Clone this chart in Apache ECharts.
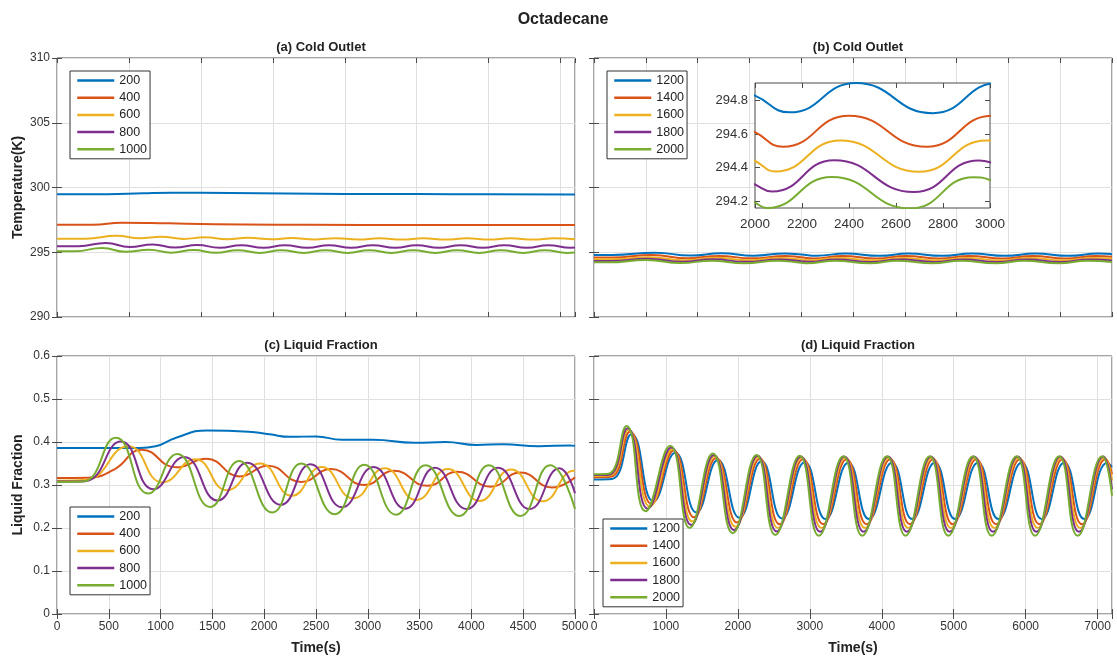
<!DOCTYPE html>
<html><head><meta charset="utf-8">
<script src="https://cdn.jsdelivr.net/npm/echarts@6/dist/echarts.min.js"></script>
<style>html,body{margin:0;padding:0;background:#fff}#c{width:1117px;height:657px}</style>
</head><body><div id="c"></div>
<script>
const COLORS = ['#0072BD','#D95319','#EDB120','#7E2F8E','#77AC30'];
const namesLow = ['200','400','600','800','1000'];
const namesHigh = ['1200','1400','1600','1800','2000'];

// (a) Cold outlet temperature, low flow  [time s, K]
const a200 = [[0,299.47],[700,299.48],[1200,299.56],[1600,299.6],[2400,299.58],[3200,299.53],[4000,299.5],[5000,299.49],[6000,299.47],[7200,299.45]];
const a400 = [[0,297.12],[500,297.13],[900,297.28],[1300,297.26],[1800,297.2],[2600,297.15],[3500,297.12],[5000,297.1],[7200,297.1]];
const a600 = [[0,296.04],[400,296.05],[830,296.27],[1150,296.08],[1450,296.2],[1760,296.03],[2050,296.15],[2370,296.0],[2650,296.12],[2980,296.0],[3260,296.1],[3580,295.98],[3870,296.09],[4190,295.98],[4480,296.08],[4800,295.98],[5090,296.08],[5400,295.98],[5700,296.08],[6010,295.98],[6300,296.08],[6620,295.98],[6910,296.08],[7200,296.0]];
const a800 = [[0,295.46],[300,295.47],[680,295.72],[1010,295.4],[1330,295.6],[1640,295.36],[1950,295.56],[2260,295.35],[2560,295.55],[2870,295.35],[3170,295.54],[3480,295.35],[3780,295.54],[4090,295.35],[4390,295.54],[4700,295.35],[5000,295.54],[5310,295.35],[5610,295.54],[5920,295.35],[6220,295.54],[6530,295.35],[6830,295.54],[7140,295.35],[7200,295.36]];
const a1000 = [[0,295.07],[250,295.08],[630,295.32],[960,295.03],[1280,295.2],[1590,294.97],[1900,295.17],[2210,294.96],[2510,295.16],[2820,294.95],[3120,295.16],[3430,294.95],[3730,295.16],[4040,294.95],[4340,295.16],[4650,294.95],[4950,295.16],[5260,294.95],[5560,295.16],[5870,294.95],[6170,295.16],[6480,294.95],[6780,295.16],[7090,294.95],[7200,294.98]];

// (b) Cold outlet temperature, high flow  [time s, K]
const b1200 = [[0,294.79],[180,294.79],[590,294.97],[930,294.74],[1230,294.92],[1540,294.73],[1845,294.91],[2000,294.83],[2148,294.73],[2429,294.905],[2756,294.725],[3035,294.905],[3360,294.725],[3650,294.905],[3970,294.725],[4260,294.905],[4580,294.725],[4870,294.905],[5000,294.87]];
const b1400 = [[0,294.59],[170,294.59],[565,294.78],[905,294.535],[1205,294.72],[1520,294.528],[1850,294.71],[2000,294.612],[2119,294.525],[2400,294.71],[2730,294.525],[3010,294.71],[3335,294.525],[3625,294.71],[3945,294.525],[4235,294.71],[4555,294.525],[4845,294.71],[5000,294.65]];
const b1600 = [[0,294.45],[160,294.45],[540,294.62],[870,294.385],[1175,294.57],[1490,294.38],[1800,294.563],[2000,294.44],[2087,294.378],[2363,294.563],[2698,294.376],[2985,294.563],[3305,294.376],[3595,294.563],[3915,294.376],[4205,294.563],[4525,294.376],[4815,294.563],[5000,294.49]];
const b1800 = [[0,294.32],[150,294.32],[520,294.5],[850,294.262],[1150,294.45],[1470,294.258],[1790,294.445],[2000,294.3],[2073,294.258],[2337,294.445],[2676,294.255],[2952,294.443],[3000,294.433],[3285,294.255],[3565,294.443],[3895,294.255],[4175,294.443],[4505,294.255],[4785,294.443],[5000,294.36]];
const b2000 = [[0,294.22],[140,294.22],[505,294.4],[835,294.165],[1135,294.35],[1450,294.16],[1770,294.345],[2000,294.192],[2051,294.16],[2327,294.345],[2661,294.157],[2930,294.343],[3000,294.327],[3265,294.157],[3545,294.343],[3875,294.157],[4155,294.343],[4485,294.157],[4765,294.343],[5000,294.25]];

// (c) Liquid fraction, low flow
const c200 = [[0,0.386],[800,0.386],[950,0.39],[1150,0.41],[1450,0.427],[1850,0.424],[2050,0.418],[2250,0.412],[2500,0.413],[2750,0.405],[3050,0.405],[3450,0.398],[3750,0.4],[4050,0.393],[4300,0.395],[4650,0.39],[4950,0.392],[5000,0.391]];
const c400 = [[0,0.316],[300,0.317],[550,0.336],[820,0.382],[1150,0.341],[1442,0.361],[1765,0.32],[2034,0.345],[2357,0.307],[2644,0.337],[2966,0.3],[3253,0.333],[3576,0.298],[3863,0.331],[4186,0.296],[4473,0.329],[4778,0.294],[5000,0.318]];
const c600 = [[0,0.31],[280,0.312],[690,0.39],[1020,0.306],[1334,0.36],[1639,0.288],[1962,0.35],[2267,0.275],[2554,0.342],[2859,0.269],[3164,0.339],[3469,0.265],[3773,0.337],[4078,0.263],[4383,0.336],[4688,0.262],[4990,0.333],[5000,0.333]];
const c800 = [[0,0.308],[270,0.309],[617,0.401],[930,0.29],[1227,0.365],[1550,0.264],[1837,0.352],[2160,0.254],[2446,0.348],[2751,0.248],[3056,0.342],[3361,0.245],[3648,0.34],[3953,0.244],[4258,0.34],[4562,0.244],[4849,0.339],[5000,0.281]];
const c1000 = [[0,0.307],[250,0.308],[568,0.41],[880,0.28],[1160,0.372],[1478,0.249],[1757,0.356],[2077,0.236],[2357,0.35],[2680,0.232],[2966,0.347],[3271,0.231],[3558,0.346],[3881,0.228],[4168,0.346],[4473,0.228],[4760,0.346],[5000,0.244]];

// (d) Liquid fraction, high flow
const d1200 = [[0,0.313],[250,0.314],[522,0.418],[826,0.262],[1130,0.375],[1423,0.236],[1722,0.358],[2021,0.224],[2330,0.355],[2613,0.222],[2930,0.353],[3218,0.221],[3536,0.352],[3821,0.221],[4142,0.352],[4423,0.221],[4737,0.352],[5018,0.221],[5338,0.352],[5621,0.221],[5944,0.352],[6223,0.221],[6536,0.352],[6815,0.221],[7135,0.352],[7200,0.342]];
const d1400 = [[0,0.318],[235,0.319],[499,0.424],[801,0.256],[1107,0.38],[1390,0.225],[1699,0.363],[1988,0.213],[2307,0.361],[2580,0.209],[2907,0.36],[3185,0.209],[3513,0.36],[3788,0.209],[4119,0.36],[4390,0.209],[4714,0.36],[4985,0.209],[5315,0.36],[5588,0.209],[5921,0.36],[6190,0.209],[6513,0.36],[6782,0.209],[7112,0.36],[7200,0.325]];
const d1600 = [[0,0.321],[220,0.322],[480,0.428],[776,0.25],[1088,0.383],[1367,0.215],[1680,0.367],[1965,0.203],[2288,0.365],[2557,0.2],[2888,0.364],[3162,0.2],[3494,0.364],[3765,0.2],[4100,0.364],[4367,0.2],[4695,0.364],[4962,0.2],[5296,0.364],[5565,0.2],[5902,0.364],[6167,0.2],[6494,0.364],[6759,0.2],[7093,0.364],[7200,0.31]];
const d1800 = [[0,0.323],[210,0.324],[466,0.432],[746,0.245],[1074,0.387],[1350,0.207],[1666,0.37],[1947,0.195],[2274,0.368],[2539,0.192],[2874,0.366],[3144,0.191],[3480,0.366],[3747,0.191],[4086,0.366],[4349,0.191],[4681,0.366],[4944,0.191],[5282,0.366],[5547,0.191],[5888,0.366],[6149,0.191],[6480,0.366],[6741,0.191],[7079,0.366],[7200,0.29]];
const d2000 = [[0,0.325],[200,0.326],[452,0.437],[716,0.239],[1060,0.391],[1330,0.2],[1652,0.373],[1928,0.188],[2260,0.37],[2520,0.184],[2860,0.368],[3125,0.182],[3466,0.367],[3728,0.182],[4072,0.367],[4330,0.182],[4667,0.367],[4925,0.182],[5268,0.367],[5528,0.182],[5874,0.367],[6130,0.182],[6466,0.367],[6722,0.182],[7065,0.367],[7200,0.275]];

const insetYTicks = [294.2, 294.4, 294.6, 294.8];

const FONT = 'Liberation Sans, Arial, Helvetica, sans-serif';
const AX = '#4a4a4a';
const GRIDC = '#e0e0e0';

const grids = [
  {left:57, top:58, width:518, height:259},
  {left:594, top:58, width:518, height:259},
  {left:57, top:356, width:518, height:258},
  {left:594, top:356, width:518, height:258},
  {left:755, top:83, width:235, height:125}
].map((g,i)=>Object.assign({show:true, borderColor:AX, borderWidth:1, backgroundColor:'#fff', z: i===4?5:0}, g));

function xAx(gi, min, max, interval, showLabel, opts){
  const z = gi===4 ? 6 : 0;
  const base = {type:'value', gridIndex:gi, min, max, interval, z,
    axisLine:{show:false},
    axisTick:{show:true, inside:true, length:5, lineStyle:{color:AX}},
    splitLine:{show: gi!==4, lineStyle:{color:GRIDC, width:1}},
    axisLabel:{show:showLabel, color:'#333', fontSize: gi===4?13.5:12, fontFamily:FONT, margin: gi===4?9:7,
      formatter: v => (v % interval === 0 ? String(v) : '')}};
  const top = {type:'value', gridIndex:gi, position:'top', min, max, interval, z,
    axisLine:{show:false}, axisTick:{show:true, inside:true, length:5, lineStyle:{color:AX}},
    splitLine:{show:false}, axisLabel:{show:false}};
  return [Object.assign(base, opts||{}), top];
}
function yAx(gi, min, max, interval, showLabel, opts){
  const z = gi===4 ? 6 : 0;
  const base = {type:'value', gridIndex:gi, min, max, interval, z,
    axisLine:{show:false},
    axisTick:{show:true, inside:true, length:5, lineStyle:{color:AX}},
    splitLine:{show: gi!==4, lineStyle:{color:GRIDC, width:1}},
    axisLabel:{show:showLabel, color:'#333', fontSize: gi===4?13:12, fontFamily:FONT, margin:7}};
  const right = {type:'value', gridIndex:gi, position:'right', min, max, interval, z,
    axisLine:{show:false}, axisTick:{show:true, inside:true, length:5, lineStyle:{color:AX}},
    splitLine:{show:false}, axisLabel:{show:false}};
  return [Object.assign(base, opts||{}), right];
}

const nameStyle = {fontWeight:'bold', fontSize:14, color:'#222', fontFamily:FONT};
const xAxes = [].concat(
  xAx(0,0,7200,1000,false),
  xAx(1,0,5000,500,false),
  xAx(2,0,5000,500,true,{name:'Time(s)', nameLocation:'middle', nameGap:27, nameTextStyle:nameStyle}),
  xAx(3,0,7200,1000,true,{name:'Time(s)', nameLocation:'middle', nameGap:27, nameTextStyle:nameStyle}),
  xAx(4,2000,3000,200,true)
);
const yAxes = [].concat(
  yAx(0,290,310,5,true,{name:'Temperature(K)', nameLocation:'middle', nameGap:32, nameTextStyle:nameStyle}),
  yAx(1,290,310,5,false),
  yAx(2,0,0.6,0.1,true,{name:'Liquid Fraction', nameLocation:'middle', nameGap:32, nameTextStyle:nameStyle}),
  yAx(3,0,0.6,0.1,false),
  yAx(4,294.16,294.905,null,true)
);
// inset y axis: custom tick values
delete yAxes[8].interval; delete yAxes[9].interval;
yAxes[8].axisLabel.customValues = insetYTicks;
yAxes[8].axisTick.customValues = insetYTicks;
yAxes[9].axisTick.customValues = insetYTicks;
yAxes[8].axisLabel.formatter = v => v.toFixed(1);

function mk(data, name, ci, gi){
  return {type:'line', name, data, xAxisIndex:gi*2, yAxisIndex:gi*2, showSymbol:false, symbol:'none',
    smooth:0.5, clip:true, silent:true, z: gi===4?7:2,
    lineStyle:{width:2, color:COLORS[ci]}, itemStyle:{color:COLORS[ci]}};
}
const panelA = [a200,a400,a600,a800,a1000];
const panelB = [b1200,b1400,b1600,b1800,b2000];
const panelC = [c200,c400,c600,c800,c1000];
const panelD = [d1200,d1400,d1600,d1800,d2000];
const series = [];
panelA.forEach((d,i)=>series.push(mk(d,namesLow[i],i,0)));
panelB.forEach((d,i)=>series.push(mk(d,namesHigh[i],i,1)));
panelC.forEach((d,i)=>series.push(mk(d,namesLow[i],i,2)));
panelD.forEach((d,i)=>series.push(mk(d,namesHigh[i],i,3)));
panelB.forEach((d,i)=>series.push(mk(d,namesHigh[i],i,4)));

function lg(names, left, top){
  return {orient:'vertical', left, top, data:names, itemWidth:37, itemHeight:14, itemGap:4.2,
    selectedMode:false,
    textStyle:{fontSize:12.5, color:'#222', fontFamily:FONT},
    itemStyle:{opacity:0}, lineStyle:{width:2.5},
    borderColor:'#333', borderWidth:1, padding:[3,3,3,6], backgroundColor:'#fff', z:8};
}
const legends = [lg(namesLow,70,71), lg(namesHigh,607,71), lg(namesLow,70,507), lg(namesHigh,603,519)];

const subStyle = {fontWeight:'bold', fontSize:13, color:'#222', fontFamily:FONT};
const titles = [
  {text:'Octadecane', left:558, top:7, textAlign:'center', textStyle:{fontWeight:'bold', fontSize:16, color:'#222', fontFamily:FONT}},
  {text:'(a) Cold Outlet', left:316, top:36, textAlign:'center', textStyle:subStyle},
  {text:'(b) Cold Outlet', left:853, top:36, textAlign:'center', textStyle:subStyle},
  {text:'(c) Liquid Fraction', left:316, top:334, textAlign:'center', textStyle:subStyle},
  {text:'(d) Liquid Fraction', left:853, top:334, textAlign:'center', textStyle:subStyle}
];

const chart = echarts.init(document.getElementById('c'), null, {renderer:'canvas'});
chart.setOption({
  animation:false,
  backgroundColor:'#fff',
  title:titles,
  legend:legends,
  grid:grids,
  xAxis:xAxes,
  yAxis:yAxes,
  series
});
</script></body></html>
